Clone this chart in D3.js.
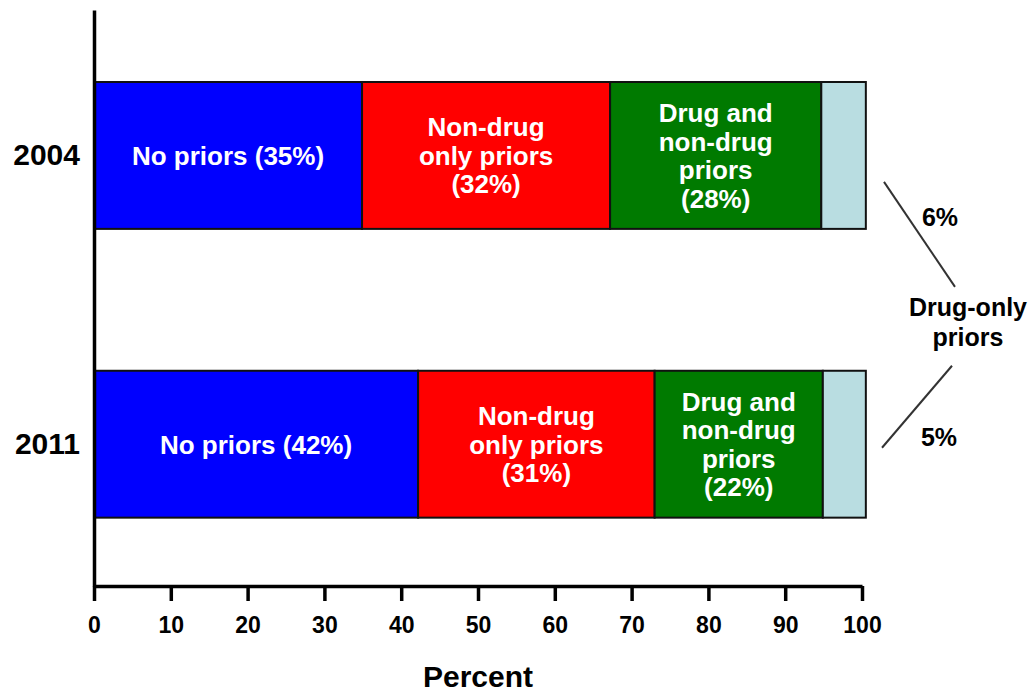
<!DOCTYPE html>
<html>
<head>
<meta charset="utf-8">
<script src="https://cdn.jsdelivr.net/npm/d3@7"></script>
<style>
  html, body { margin: 0; padding: 0; background: #fff; }
  svg { display: block; font-family: "Liberation Sans", Arial, Helvetica, sans-serif; }
</style>
</head>
<body>
<svg id="chart" width="1034" height="696"></svg>
<script>
// ---- data ----
const years = ["2004", "2011"];
const categories = ["No priors", "Non-drug only priors", "Drug and non-drug priors", "Drug-only priors"];
const values2004 = [34.9, 32.3, 27.5, 5.8];
const values2011 = [42.2, 30.8, 21.9, 5.6];
const labels2004 = [["No priors (35%)"], ["Non-drug", "only priors", "(32%)"], ["Drug and", "non-drug", "priors", "(28%)"], []];
const labels2011 = [["No priors (42%)"], ["Non-drug", "only priors", "(31%)"], ["Drug and", "non-drug", "priors", "(22%)"], []];
const sideLabels = ["6%", "5%"];
const sideTitle = ["Drug-only", "priors"];
const xTicks = [0, 10, 20, 30, 40, 50, 60, 70, 80, 90, 100];
const xTitle = "Percent";
const colors = ["#0000ff", "#ff0000", "#007a00", "#b9dde1"];

const seriesValues = [values2004, values2011];
const seriesLabels = [labels2004, labels2011];

const svg = d3.select("#chart");

const x = d3.scaleLinear().domain([0, 100]).range([94, 862]);
const y = d3.scaleBand().domain(years).range([10, 586])
  .paddingInner(0.4913).paddingOuter(0.243).align(0.513);

// bars
years.forEach((yr, i) => {
  const vals = seriesValues[i];
  let cum = 0;
  const segs = vals.map((v, j) => { const s = { start: cum, end: cum + v, j }; cum += v; return s; });
  const g = svg.append("g");
  g.selectAll("rect").data(segs).enter().append("rect")
    .attr("x", d => x(d.start))
    .attr("y", y(yr))
    .attr("width", d => x(d.end) - x(d.start))
    .attr("height", y.bandwidth())
    .attr("fill", d => colors[d.j])
    .attr("stroke", "#111")
    .attr("stroke-width", 2);

  segs.forEach(d => {
    const lines = seriesLabels[i][d.j];
    if (!lines.length) return;
    const cx = (x(d.start) + x(d.end)) / 2;
    const cy = y(yr) + y.bandwidth() / 2;
    const lh = 28.5;
    const t = g.append("text")
      .attr("text-anchor", "middle")
      .attr("fill", "#fff")
      .attr("font-weight", "bold")
      .attr("font-size", 26);
    lines.forEach((ln, k) => {
      t.append("tspan")
        .attr("x", cx)
        .attr("y", cy + (k - (lines.length - 1) / 2) * lh)
        .attr("dy", "0.36em")
        .text(ln);
    });
  });
});

// y axis
const yAxis = svg.append("g")
  .attr("transform", `translate(${x(0)},0)`)
  .call(d3.axisLeft(y).tickSize(0).tickPadding(14));
yAxis.select(".domain").attr("stroke", "#000").attr("stroke-width", 3.5);
yAxis.selectAll("text").attr("font-size", 30).attr("font-weight", "bold").attr("fill", "#000")
  .attr("font-family", "'Liberation Sans', Arial, sans-serif");

// x axis
const xAxis = svg.append("g")
  .attr("transform", `translate(0,${586})`)
  .call(d3.axisBottom(x).tickValues(xTicks).tickSize(15).tickSizeOuter(0).tickPadding(15));
xAxis.select(".domain").attr("stroke", "#000").attr("stroke-width", 3.5);
xAxis.selectAll(".tick line").attr("stroke", "#000").attr("stroke-width", 3.5);
xAxis.selectAll("text").attr("font-size", 24).attr("font-weight", "bold").attr("fill", "#000")
  .attr("font-family", "'Liberation Sans Narrow', 'Liberation Sans', Arial, sans-serif")
  .attr("textLength", d => String(d).length * 12.8).attr("lengthAdjust", "spacingAndGlyphs");

// x title
svg.append("text")
  .attr("x", (x(0) + x(100)) / 2)
  .attr("y", 687)
  .attr("text-anchor", "middle")
  .attr("font-size", 30)
  .attr("font-weight", "bold")
  .text(xTitle);

// drug-only annotations
const yTop = y(years[0]) + y.bandwidth(); // bottom of 2004 bar
const yBot = y(years[1]);                 // top of 2011 bar
svg.append("line")
  .attr("x1", x(100) + 22).attr("y1", yTop - 47)
  .attr("x2", x(100) + 93).attr("y2", yTop + 58)
  .attr("stroke", "#333").attr("stroke-width", 2);
svg.append("line")
  .attr("x1", x(100) + 90).attr("y1", yBot - 5)
  .attr("x2", x(100) + 20).attr("y2", yBot + 77)
  .attr("stroke", "#333").attr("stroke-width", 2);

svg.append("text")
  .attr("x", x(100) + 78).attr("y", yTop - 12)
  .attr("dy", "0.36em")
  .attr("text-anchor", "middle").attr("font-size", 25).attr("font-weight", "bold")
  .text(sideLabels[0]);
svg.append("text")
  .attr("x", x(100) + 77).attr("y", yBot + 66)
  .attr("dy", "0.36em")
  .attr("text-anchor", "middle").attr("font-size", 25).attr("font-weight", "bold")
  .text(sideLabels[1]);

const st = svg.append("text")
  .attr("text-anchor", "middle").attr("font-size", 25).attr("font-weight", "bold");
sideTitle.forEach((ln, k) => {
  st.append("tspan").attr("x", x(100) + 106).attr("y", 307 + k * 30).attr("dy", "0.36em").text(ln);
});
</script>
</body>
</html>
